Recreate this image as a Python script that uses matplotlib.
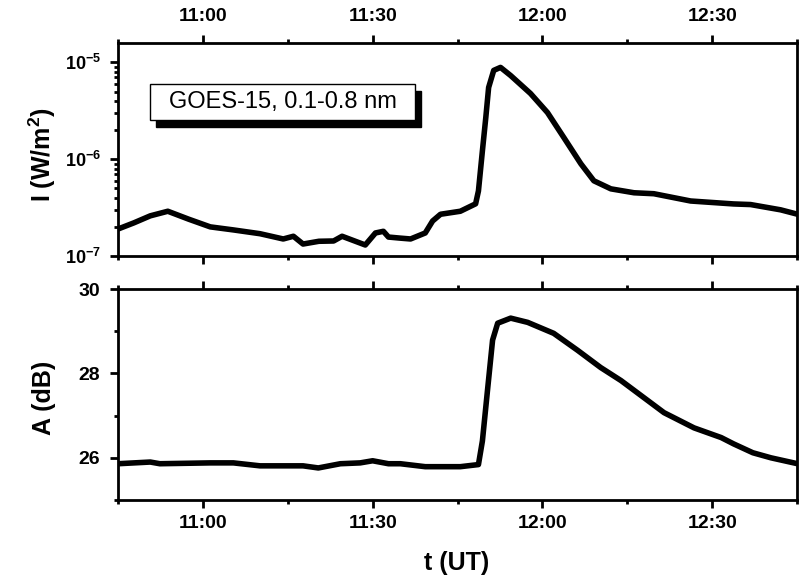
import matplotlib
matplotlib.use("Agg")
import matplotlib.pyplot as plt
import matplotlib.transforms as mtransforms
from matplotlib.patches import Rectangle
from matplotlib.ticker import MultipleLocator, FuncFormatter, LogLocator, LogFormatterMathtext, NullFormatter

plt.rcParams['font.family'] = ['Liberation Sans', 'DejaVu Sans']
plt.rcParams['font.weight'] = 'bold'
plt.rcParams['mathtext.fontset'] = 'custom'
plt.rcParams['mathtext.rm'] = 'Liberation Sans:bold'
plt.rcParams['mathtext.bf'] = 'Liberation Sans:bold'
plt.rcParams['mathtext.default'] = 'bf'

# GOES-15 X-ray flux, time in minutes after 10:00 UT
t_goes = [45.0, 47.8, 50.7, 53.8, 57.5, 61.3, 65.4, 70.1, 74.2, 76.0, 77.7, 80.5,
          83.1, 84.6, 88.7, 90.5, 91.9, 92.8, 94.9, 96.7, 99.3, 100.6, 102.0, 105.5,
          108.2, 108.7, 109.4, 110.0, 110.5, 111.4, 112.6, 114.4, 117.9, 120.9, 123.8,
          126.8, 129.1, 132.1, 136.2, 139.7, 146.2, 153.8, 156.8, 162.1, 165.1]
flux = [1.9e-7, 2.2e-7, 2.6e-7, 2.9e-7, 2.4e-7, 2.0e-7, 1.86e-7, 1.7e-7, 1.5e-7, 1.6e-7, 1.33e-7, 1.42e-7,
        1.43e-7, 1.6e-7, 1.3e-7, 1.73e-7, 1.8e-7, 1.57e-7, 1.53e-7, 1.5e-7, 1.73e-7, 2.3e-7, 2.7e-7, 2.9e-7,
        3.46e-7, 4.7e-7, 1.22e-6, 2.69e-6, 5.5e-6, 8.26e-6, 8.87e-6, 7.3e-6, 4.77e-6, 3.03e-6, 1.67e-6,
        8.97e-7, 5.98e-7, 4.94e-7, 4.5e-7, 4.4e-7, 3.7e-7, 3.45e-7, 3.4e-7, 3.0e-7, 2.7e-7]

# received signal amplitude
t_amp = [45.0, 50.7, 52.4, 61.3, 65.4, 70.1, 77.7, 80.4, 84.3, 87.8, 90.0, 92.8,
         94.9, 99.3, 105.5, 108.7, 109.4, 110.3, 111.2, 112.1, 114.4, 117.4, 122.0,
         126.2, 130.3, 133.9, 136.2, 141.5, 146.8, 151.6, 153.8, 157.2, 160.4, 165.1]
amp = [25.86, 25.9, 25.86, 25.88, 25.88, 25.81, 25.81, 25.76, 25.86, 25.88, 25.93, 25.86,
       25.86, 25.79, 25.79, 25.84, 26.4, 27.6, 28.79, 29.19, 29.31, 29.21, 28.95,
       28.55, 28.14, 27.83, 27.6, 27.07, 26.71, 26.48, 26.33, 26.12, 26.0, 25.86]

legend_text = "GOES-15, 0.1-0.8 nm"


def hhmm(v, pos):
    h = 10 + int(v) // 60
    m = int(v) % 60
    return "%d:%02d" % (h, m)


def style_axis(ax):
    for s in ax.spines.values():
        s.set_linewidth(2)
    ax.set_xlim(45, 165)
    ax.xaxis.set_major_locator(MultipleLocator(30))
    ax.xaxis.set_minor_locator(MultipleLocator(15))
    ax.xaxis.set_major_formatter(FuncFormatter(hhmm))
    ax.tick_params(which='major', direction='out', length=6, width=2,
                   labelsize=14, pad=5)
    ax.tick_params(which='minor', direction='out', length=3, width=2)
    ax.tick_params(axis='both', which='both', right=False)


fig = plt.figure(figsize=(7.99, 5.84), dpi=100)
ax1 = fig.add_axes([0.1477, 0.5616, 0.8498, 0.3648])
ax2 = fig.add_axes([0.1477, 0.1438, 0.8498, 0.3613])

# top panel
ax1.plot(t_goes, flux, color='black', lw=4, solid_joinstyle='round')
ax1.set_yscale('log')
ax1.set_ylim(1e-7, 10 ** -4.8)
ax1.yaxis.set_major_locator(LogLocator(base=10))
ax1.yaxis.set_major_formatter(LogFormatterMathtext())
ax1.yaxis.set_minor_locator(LogLocator(base=10, subs=range(2, 10)))
ax1.yaxis.set_minor_formatter(NullFormatter())
style_axis(ax1)
ax1.tick_params(axis='x', which='both', top=True, bottom=True,
                labeltop=True, labelbottom=False)
ax1.tick_params(axis='x', which='major', pad=7)
ax1.tick_params(axis='y', which='major', labelsize=13, pad=6)

# legend box with black shadow
shadow_tr = mtransforms.offset_copy(ax1.transAxes, fig=fig, x=6, y=-7, units='dots')
ax1.add_patch(Rectangle((0.047, 0.638), 0.39, 0.17, transform=shadow_tr,
                        facecolor='black', edgecolor='black', zorder=4))
ax1.add_patch(Rectangle((0.047, 0.638), 0.39, 0.17, transform=ax1.transAxes,
                        facecolor='white', edgecolor='black', lw=1, zorder=5))
ax1.text(0.243, 0.723, legend_text, transform=ax1.transAxes, ha='center', va='center',
         fontsize=17, fontweight='normal', zorder=6)

# bottom panel
ax2.plot(t_amp, amp, color='black', lw=4, solid_joinstyle='round')
ax2.set_ylim(25, 30)
ax2.yaxis.set_major_locator(MultipleLocator(2))
ax2.yaxis.set_minor_locator(MultipleLocator(1))
style_axis(ax2)
ax2.tick_params(axis='x', which='both', top=True, bottom=True,
                labeltop=False, labelbottom=True)
ax2.tick_params(axis='y', which='major', pad=7)

fig.text(0.053, 0.735, r"I (W/m$^2$)", rotation=90, ha='center', va='center',
         fontsize=18)
fig.text(0.055, 0.318, "A (dB)", rotation=90, ha='center', va='center',
         fontsize=18)
fig.text(0.571, 0.036, "t (UT)", ha='center', va='center',
         fontsize=18)

fig.savefig("out.png", dpi=100)
